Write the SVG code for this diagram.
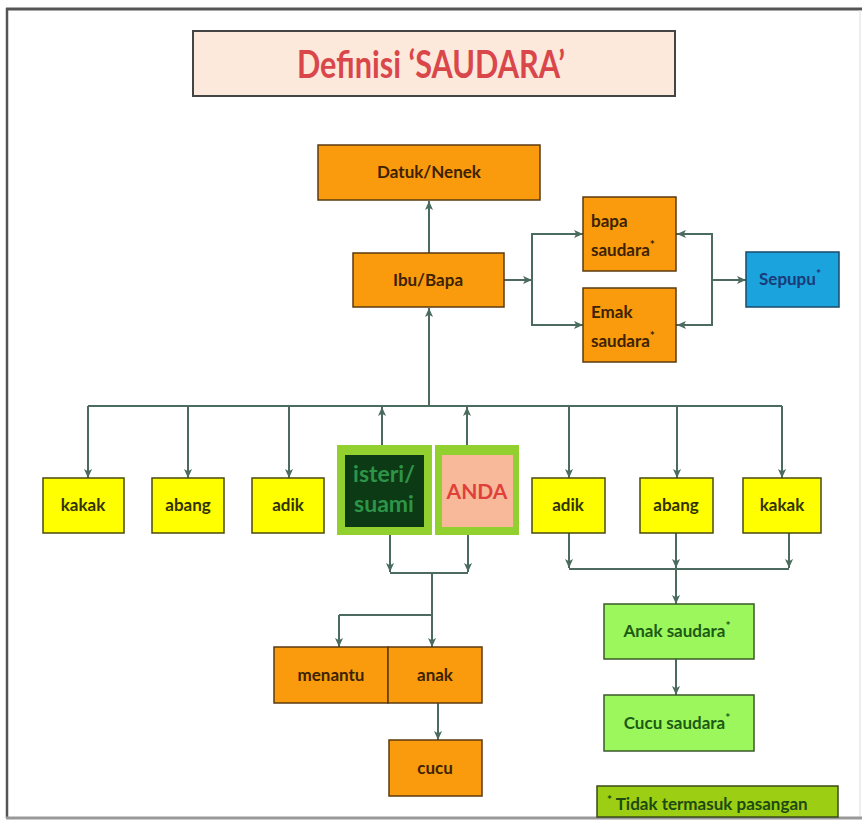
<svg xmlns="http://www.w3.org/2000/svg" width="862" height="820" viewBox="0 0 862 820">
<defs>
<marker id="ah" viewBox="0 0 10 10" refX="10" refY="5" markerWidth="9" markerHeight="9" markerUnits="userSpaceOnUse" orient="auto">
<path d="M0,0.5 L10,5 L0,9.5 L2.5,5 z" fill="#4a6b5d"/>
</marker>
</defs>
<style>
.c{fill:none;stroke:#4a6b5d;stroke-width:2}
.a{marker-end:url(#ah)}
.or{fill:#f99b0c;stroke:#5a3a10;stroke-width:1.5}
.ye{fill:#ffff00;stroke:#4a4a10;stroke-width:1.5}
.gr{fill:#9cf75c;stroke:#3a5a2a;stroke-width:1.5}
.t{font-family:Lato,"Open Sans",sans-serif;font-weight:bold;font-size:17px;text-anchor:middle}
.tl{font-family:Lato,"Open Sans",sans-serif;font-weight:bold;font-size:17px}
.dk{fill:#3d2200}
.yk{fill:#333300}
.gk{fill:#1d5a14}
.s{font-size:12px}
.big{font-size:23px}
.anda{font-size:21px}
</style>
<rect width="862" height="820" fill="#ffffff"/>
<g id="frame">
<line x1="6" y1="9" x2="862" y2="9" stroke="#555" stroke-width="3"/>
<line x1="7" y1="8" x2="7" y2="818" stroke="#555" stroke-width="2.5"/>
<line x1="860" y1="10" x2="860" y2="818" stroke="#ddd" stroke-width="1"/>
<line x1="6" y1="818" x2="862" y2="818" stroke="#999" stroke-width="3"/>
</g>
<g id="title">
<rect x="193" y="31" width="482" height="65" fill="#fde8dc" stroke="#444" stroke-width="2"/>
<text x="431" y="78" font-family="Lato,'Open Sans',sans-serif" font-weight="bold" font-size="38" fill="#d9474a" text-anchor="middle" textLength="268" lengthAdjust="spacingAndGlyphs">Definisi ‘SAUDARA’</text>
</g>
<g id="connectors">
<line class="c a" x1="429" y1="406" x2="429" y2="308"/>
<line class="c a" x1="429" y1="253" x2="429" y2="201"/>
<line class="c" x1="88" y1="406" x2="782" y2="406"/>
<line class="c a" x1="88" y1="406" x2="88" y2="478"/>
<line class="c a" x1="188" y1="406" x2="188" y2="478"/>
<line class="c a" x1="289" y1="406" x2="289" y2="478"/>
<line class="c a" x1="569" y1="406" x2="569" y2="478"/>
<line class="c a" x1="677" y1="406" x2="677" y2="478"/>
<line class="c a" x1="782" y1="406" x2="782" y2="478"/>
<line class="c a" x1="382" y1="445" x2="382" y2="407"/>
<line class="c a" x1="467" y1="445" x2="467" y2="407"/>
<line class="c a" x1="504" y1="280" x2="532" y2="280"/>
<polyline class="c" points="583,234 532,234 532,325 583,325"/>
<line class="c a" x1="532" y1="234" x2="583" y2="234"/>
<line class="c a" x1="532" y1="325" x2="583" y2="325"/>
<polyline class="c" points="676,234 712,234 712,325 676,325"/>
<line class="c a" x1="712" y1="234" x2="677" y2="234"/>
<line class="c a" x1="712" y1="325" x2="677" y2="325"/>
<line class="c a" x1="712" y1="280" x2="746" y2="280"/>
<line class="c a" x1="390" y1="535" x2="390" y2="572"/>
<line class="c a" x1="468" y1="535" x2="468" y2="572"/>
<line class="c" x1="390" y1="573" x2="468" y2="573"/>
<line class="c" x1="432" y1="573" x2="432" y2="615"/>
<line class="c" x1="339" y1="615" x2="432" y2="615"/>
<line class="c a" x1="339" y1="615" x2="339" y2="647"/>
<line class="c a" x1="432" y1="615" x2="432" y2="647"/>
<line class="c a" x1="438" y1="703" x2="438" y2="740"/>
<line class="c a" x1="569" y1="533" x2="569" y2="568"/>
<line class="c a" x1="676" y1="533" x2="676" y2="568"/>
<line class="c a" x1="789" y1="533" x2="789" y2="568"/>
<line class="c" x1="569" y1="569" x2="789" y2="569"/>
<line class="c a" x1="676" y1="569" x2="676" y2="604"/>
<line class="c a" x1="676" y1="659" x2="676" y2="695"/>
</g>
<g id="datuk"><rect class="or" x="318" y="145" width="222" height="55"/><text class="t dk" x="429" y="178">Datuk/Nenek</text></g>
<g id="ibubapa"><rect class="or" x="353" y="253" width="151" height="54"/><text class="t dk" x="428" y="286">Ibu/Bapa</text></g>
<g id="bapasaudara"><rect class="or" x="583" y="197" width="93" height="74"/><text class="tl dk" x="591" y="227">bapa</text><text class="tl dk" x="591" y="256">saudara<tspan class="s" dy="-7">*</tspan></text></g>
<g id="emaksaudara"><rect class="or" x="583" y="288" width="93" height="74"/><text class="tl dk" x="591" y="318">Emak</text><text class="tl dk" x="591" y="347">saudara<tspan class="s" dy="-7">*</tspan></text></g>
<g id="sepupu"><rect x="746" y="252" width="93" height="55" fill="#1ba3de" stroke="#1a4a6a" stroke-width="1.5"/><text class="t" fill="#1a3a78" x="790" y="285">Sepupu<tspan class="s" dy="-7">*</tspan></text></g>
<g id="kakak1"><rect class="ye" x="43" y="478" width="81" height="55"/><text class="t yk" x="83" y="511">kakak</text></g>
<g id="abang1"><rect class="ye" x="152" y="478" width="72" height="55"/><text class="t yk" x="188" y="511">abang</text></g>
<g id="adik1"><rect class="ye" x="252" y="478" width="72" height="55"/><text class="t yk" x="288" y="511">adik</text></g>
<g id="isteri"><rect x="337" y="445" width="95" height="90" fill="#92d030"/><rect x="345" y="455" width="79" height="72" fill="#0b3a14"/><text class="t big" fill="#2e9448" x="384" y="482">isteri/</text><text class="t big" fill="#2e9448" x="384" y="512">suami</text></g>
<g id="anda"><rect x="435" y="445" width="84" height="90" fill="#92d030"/><rect x="442" y="455" width="71" height="72" fill="#f8b99b"/><text class="t anda" fill="#e0403a" x="477" y="499">ANDA</text></g>
<g id="adik2"><rect class="ye" x="532" y="478" width="73" height="55"/><text class="t yk" x="568" y="511">adik</text></g>
<g id="abang2"><rect class="ye" x="640" y="478" width="73" height="55"/><text class="t yk" x="676" y="511">abang</text></g>
<g id="kakak2"><rect class="ye" x="743" y="478" width="78" height="55"/><text class="t yk" x="782" y="511">kakak</text></g>
<g id="menantu"><rect class="or" x="274" y="647" width="114" height="56"/><text class="t dk" x="331" y="681">menantu</text></g>
<g id="anak"><rect class="or" x="388" y="647" width="94" height="56"/><text class="t dk" x="435" y="681">anak</text></g>
<g id="cucu"><rect class="or" x="389" y="740" width="93" height="56"/><text class="t dk" x="435" y="774">cucu</text></g>
<g id="anaksaudara"><rect class="gr" x="604" y="604" width="150" height="55"/><text class="t gk" x="677" y="637">Anak saudara<tspan class="s" dy="-7">*</tspan></text></g>
<g id="cucusaudara"><rect class="gr" x="604" y="695" width="150" height="56"/><text class="t gk" x="677" y="729">Cucu saudara<tspan class="s" dy="-7">*</tspan></text></g>
<g id="note"><rect x="597" y="786" width="241" height="31" fill="#9ccf14" stroke="#3a4a1a" stroke-width="1.5"/><text class="tl" fill="#1d4a10" x="607" y="810"><tspan class="s" dy="-6">*</tspan><tspan dy="6"> Tidak termasuk pasangan</tspan></text></g>
</svg>
